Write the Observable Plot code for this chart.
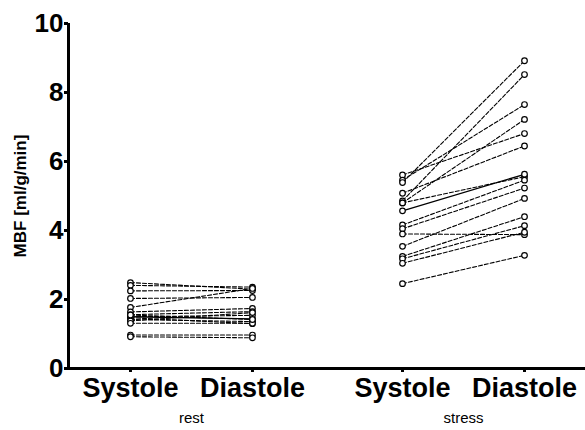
<!DOCTYPE html>
<html>
<head>
<meta charset="utf-8">
<script src="https://cdn.jsdelivr.net/npm/d3@7"></script>
<script src="https://cdn.jsdelivr.net/npm/@observablehq/plot@0.6"></script>
<style>
  html, body { margin: 0; padding: 0; background: #fff; }
  svg { font-family: "Liberation Sans", Arial, sans-serif; }
</style>
</head>
<body>
<div id="chart"></div>
<script>
// ---- data ----
const groups = ["rest", "stress"];
const phases = ["Systole", "Diastole"];
const yTicks = [0, 2, 4, 6, 8, 10];
const yLabel = "MBF [ml/g/min]";

const restSystole   = [2.49, 2.41, 2.25, 2.03, 1.77, 1.64, 1.56, 1.50, 1.50, 1.47, 1.42, 1.38, 1.31, 0.97, 0.92, 1.55];
const restDiastole  = [2.30, 2.36, 2.26, 2.06, 2.32, 1.74, 1.65, 1.44, 1.54, 1.30, 1.36, 1.62, 1.31, 0.97, 0.89, 1.42];
const stressSystole = [5.61, 5.46, 5.39, 5.08, 4.86, 4.80, 4.80, 4.57, 4.16, 4.05, 3.90, 3.54, 3.25, 3.18, 3.05, 2.46];
const stressDiastole= [6.81, 7.65, 8.92, 6.45, 8.52, 7.22, 5.56, 5.63, 5.46, 5.23, 3.88, 4.93, 4.40, 4.14, 3.95, 3.28];
const solidRest = [7];
const solidStress = [7];

// ---- layout helpers ----
const groupGap = 2.23;                       // distance between group starts (x units)
const xOf = (g, p) => 1 + g * groupGap + p;  // position of a phase within a group
const xDomain = [0.492, 4.73];

const series = [
  {group: 0, sys: restSystole, dia: restDiastole, solid: solidRest},
  {group: 1, sys: stressSystole, dia: stressDiastole, solid: solidStress}
];
const rows = [];
for (const s of series) {
  s.sys.forEach((v, i) => {
    const id = groups[s.group] + i;
    const solid = s.solid.includes(i);
    rows.push({id, solid, x: xOf(s.group, 0), value: v});
    rows.push({id, solid, x: xOf(s.group, 1), value: s.dia[i]});
  });
}
const phaseTicks = [xOf(0,0), xOf(0,1), xOf(1,0), xOf(1,1)];
const groupTicks = [xOf(0,0.5), xOf(1,0.5)];

const chart = Plot.plot({
  width: 585,
  height: 430,
  marginTop: 23,
  marginBottom: 62,
  marginLeft: 68,
  marginRight: 0,
  style: {fontFamily: "'Liberation Sans', Arial, sans-serif", background: "#fff", color: "#000"},
  x: {domain: xDomain},
  y: {domain: [0, 10]},
  marks: [
    Plot.line(rows.filter(d => !d.solid), {x: "x", y: "value", z: "id", stroke: "#000", strokeWidth: 1.1, strokeDasharray: "4,2"}),
    Plot.line(rows.filter(d => d.solid), {x: "x", y: "value", z: "id", stroke: "#000", strokeWidth: 1.3}),
    Plot.dot(rows, {x: "x", y: "value", r: 2.8, stroke: "#000", fill: "#fff", strokeWidth: 1.2}),
    Plot.ruleY([0], {stroke: "#000", strokeWidth: 3}),
    Plot.ruleX([xDomain[0]], {stroke: "#000", strokeWidth: 3}),
    Plot.axisY({ticks: yTicks, tickSize: 4, tickPadding: 1, strokeWidth: 3, fontSize: 26, fontWeight: "bold", label: null}),
    Plot.axisX({ticks: phaseTicks, tickFormat: (d, i) => phases[i % 2], tickSize: 4, tickPadding: 5, strokeWidth: 3, fontSize: 27, fontWeight: "bold", label: null}),
    Plot.axisX({ticks: groupTicks, tickFormat: (d, i) => groups[i], tickSize: 0, tickPadding: 44, fontSize: 15, label: null}),
    Plot.text([yLabel], {frameAnchor: "left", textAnchor: "middle", rotate: -90, dx: -48, fontSize: 17, fontWeight: "bold", fill: "#000"})
  ]
});
document.getElementById("chart").appendChild(chart);
</script>
</body>
</html>
